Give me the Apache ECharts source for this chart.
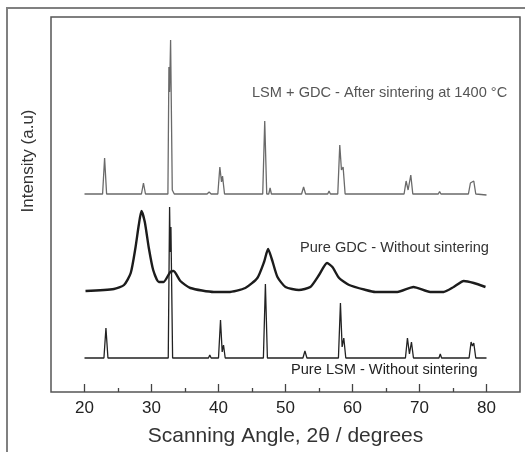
<!DOCTYPE html>
<html>
<head>
<meta charset="utf-8">
<script src="https://cdn.jsdelivr.net/npm/echarts@6/dist/echarts.min.js"></script>
<style>
  html, body { margin: 0; padding: 0; background: #fff; }
  #xrd { width: 525px; height: 452px; }
</style>
</head>
<body>
<div id="xrd"></div>
<script>
// 2θ ticks
var majorTicks = [20, 30, 40, 50, 60, 70, 80];
var minorTicks = [25, 35, 45, 55, 65, 75];

// LSM + GDC, after sintering at 1400 °C (top trace, offset intensity)
var sinteredAngle = [20.0, 22.7, 23.0, 23.3, 28.5, 28.8, 29.1, 32.45, 32.6, 32.7, 32.85, 33.1, 33.4, 38.3, 38.6, 38.9,
  39.9, 40.2, 40.45, 40.6, 40.9, 46.6, 46.9, 47.2, 47.5, 47.7, 47.9, 52.4, 52.7, 52.8, 53.0, 56.3, 56.5, 56.7,
  57.8, 58.1, 58.35, 58.6, 58.9, 67.7, 68.0, 68.3, 68.7, 69.0, 72.8, 73.0, 73.2, 77.3, 77.6, 77.8, 78.1, 78.4, 80.0];
var sinteredIntensity = [198, 198, 234, 198, 198, 209, 198, 198, 325, 300, 352, 202, 198, 198, 200, 198,
  198, 225, 210, 216, 198, 198, 271, 198, 198, 204, 198, 198, 205, 204, 198, 198, 201, 198,
  198, 247, 222, 225, 198, 198, 211, 202, 217, 198, 198, 200.5, 198, 198, 209, 207, 211, 198, 197];

// Pure GDC, without sintering (middle trace)
var gdcAngle = [20.15, 24.4, 25.9, 26.9, 27.6, 28.1, 28.5, 29.0, 29.6, 30.25, 31.1, 31.8, 32.8, 33.3, 34.3, 35.8,
  39.3, 41.5, 44.0, 45.8, 46.8, 47.4, 48.0, 48.8, 50.0, 52.0, 53.7, 55.0, 56.2, 57.0, 58.0, 59.5,
  62.0, 63.4, 66.7, 69.1, 71.6, 73.6, 75.1, 76.6, 78.1, 79.85];
var gdcIntensity = [101, 103, 107, 119, 144, 167, 181, 170, 144, 122, 110, 110, 120, 121, 111, 104,
  100, 100, 104, 114, 130, 143, 132, 115, 105, 102, 105, 117, 129, 125, 114, 107,
  102, 100, 100, 105, 100, 100, 105, 111, 109, 105];

// Pure LSM, without sintering (bottom trace)
var lsmAngle = [20.0, 22.9, 23.2, 23.5, 32.5, 32.7, 32.8, 32.9, 33.15, 38.5, 38.7, 38.9, 40.0, 40.3, 40.55, 40.75, 41.0,
  46.7, 47.0, 47.3, 52.6, 52.9, 53.2, 57.9, 58.2, 58.45, 58.7, 59.0, 67.9, 68.2, 68.5, 68.8, 69.1,
  72.9, 73.1, 73.3, 77.4, 77.7, 77.9, 78.1, 78.4, 80.0];
var lsmIntensity = [34, 34, 64, 34, 34, 185, 140, 165, 34, 34, 37, 34, 34, 72, 40, 47, 34,
  34, 108, 34, 34, 41, 34, 34, 89, 45, 54, 34, 34, 54, 38, 50, 34,
  34, 38, 34, 34, 50, 46, 49, 34, 34];

function pairs(xs, ys) {
  return xs.map(function (x, i) { return [x, ys[i]]; });
}

var chart = echarts.init(document.getElementById('xrd'), null, { renderer: 'canvas' });
var font = 'Liberation Sans, Arial, Helvetica, sans-serif';

var option = {
  animation: false,
  backgroundColor: '#fff',
  grid: {
    left: 51, right: 5, top: 17, bottom: 60,
    show: true, borderColor: '#555', borderWidth: 1.5
  },
  xAxis: [
    {
      type: 'value', min: 15, max: 85,
      axisLine: { show: false },
      axisTick: { show: true, inside: true, length: 8, customValues: majorTicks, lineStyle: { color: '#444', width: 1.3 } },
      axisLabel: { customValues: majorTicks, color: '#222', fontSize: 17, fontFamily: font, margin: 8 },
      splitLine: { show: false },
      name: 'Scanning Angle, 2\u03b8 / degrees',
      nameLocation: 'middle',
      nameGap: 34,
      nameTextStyle: { color: '#333', fontSize: 21, fontFamily: font }
    },
    {
      type: 'value', min: 15, max: 85, position: 'bottom',
      axisLine: { show: false },
      axisTick: { show: true, inside: true, length: 4, customValues: minorTicks, lineStyle: { color: '#444', width: 1.3 } },
      axisLabel: { show: false },
      splitLine: { show: false }
    }
  ],
  yAxis: {
    type: 'value', min: 0, max: 375,
    axisLine: { show: false },
    axisTick: { show: false },
    axisLabel: { show: false },
    splitLine: { show: false }
  },
  series: [
    {
      name: 'LSM + GDC - After sintering at 1400 °C',
      type: 'line', showSymbol: false, xAxisIndex: 0,
      data: pairs(sinteredAngle, sinteredIntensity),
      lineStyle: { color: '#6a6a6a', width: 1.3 }
    },
    {
      name: 'Pure GDC - Without sintering',
      type: 'line', showSymbol: false, xAxisIndex: 0, smooth: 0.2,
      data: pairs(gdcAngle, gdcIntensity),
      lineStyle: { color: '#1c1c1c', width: 2.4 }
    },
    {
      name: 'Pure LSM - Without sintering',
      type: 'line', showSymbol: false, xAxisIndex: 0,
      data: pairs(lsmAngle, lsmIntensity),
      lineStyle: { color: '#222', width: 1.3 }
    }
  ],
  graphic: [
    // outer frame of the figure
    { type: 'polyline', shape: { points: [[7, 452], [7, 8], [525, 8]] }, style: { stroke: '#808080', lineWidth: 2, fill: null } },
    {
      type: 'text', x: 28, y: 161, rotation: Math.PI / 2,
      style: { text: 'Intensity (a.u)', fill: '#333', fontSize: 17, fontFamily: font, align: 'center', verticalAlign: 'middle' }
    },
    {
      type: 'text', x: 252, y: 93,
      style: { text: 'LSM + GDC - After sintering at 1400 °C', fill: '#555', fontSize: 14.6, fontFamily: font, verticalAlign: 'middle' }
    },
    {
      type: 'text', x: 300, y: 248,
      style: { text: 'Pure GDC - Without sintering', fill: '#333', fontSize: 14.6, fontFamily: font, verticalAlign: 'middle' }
    },
    {
      type: 'text', x: 291, y: 370,
      style: { text: 'Pure LSM - Without sintering', fill: '#222', fontSize: 14.6, fontFamily: font, verticalAlign: 'middle' }
    }
  ]
};

chart.setOption(option);
window.addEventListener('resize', function () { chart.resize(); });
</script>
</body>
</html>
